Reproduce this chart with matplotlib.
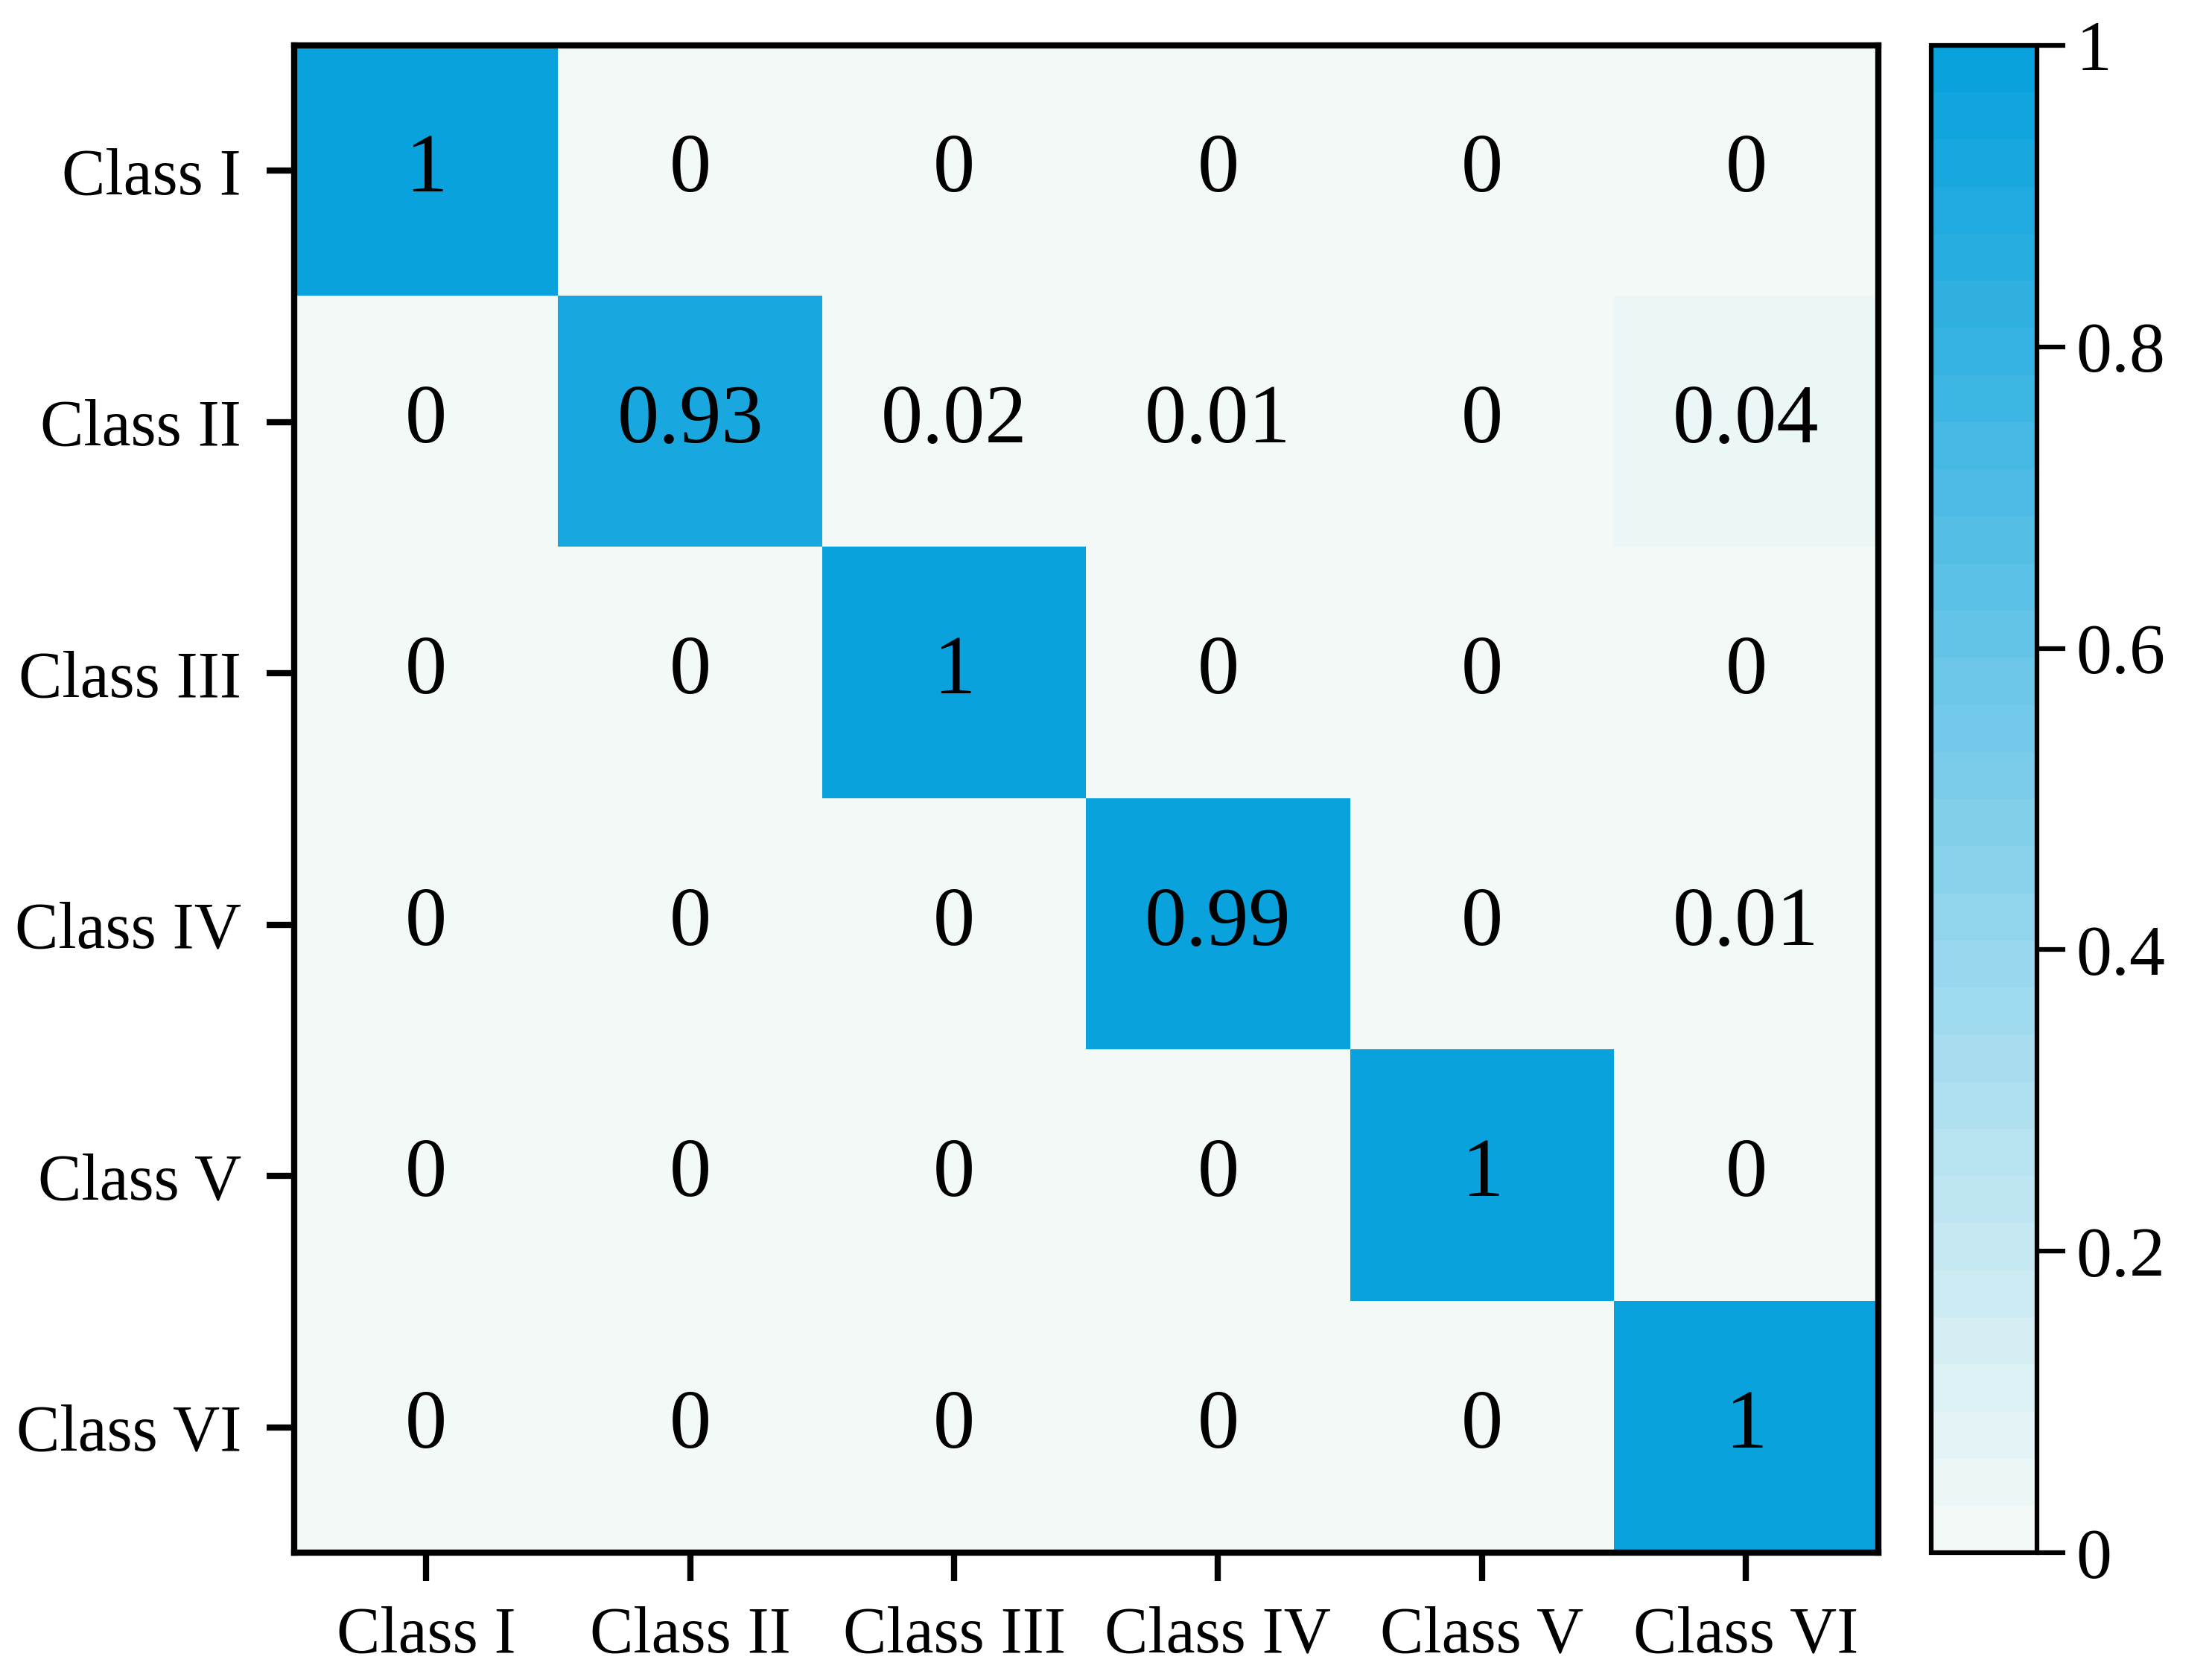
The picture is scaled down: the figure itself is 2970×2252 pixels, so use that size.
import matplotlib
matplotlib.use("Agg")
import matplotlib.pyplot as plt
import numpy as np
from matplotlib.colors import LinearSegmentedColormap

classes = ["Class I", "Class II", "Class III", "Class IV", "Class V", "Class VI"]
matrix = np.array([
    [1, 0, 0, 0, 0, 0],
    [0, 0.93, 0.02, 0.01, 0, 0.04],
    [0, 0, 1, 0, 0, 0],
    [0, 0, 0, 0.99, 0, 0.01],
    [0, 0, 0, 0, 1, 0],
    [0, 0, 0, 0, 0, 1],
])

plt.rcParams["font.family"] = ["Liberation Serif", "DejaVu Serif"]
cmap = LinearSegmentedColormap.from_list("blu", ["#f3f9f7", "#09a2dd"], N=32)

fig = plt.figure(figsize=(9.9, 7.507), dpi=300)
ax = fig.add_axes([0.133, 0.074, 0.716, 0.899])
cax = fig.add_axes([0.873, 0.074, 0.048, 0.899])

im = ax.imshow(matrix, cmap=cmap, vmin=0, vmax=1, aspect="auto")
for i in range(len(classes)):
    for j in range(len(classes)):
        v = matrix[i, j]
        txt = "0" if v == 0 else ("1" if v == 1 else f"{v:.2f}")
        ax.text(j, i, txt, ha="center", va="center", fontsize=27, color="black")

ax.set_xticks(range(len(classes)))
ax.set_yticks(range(len(classes)))
ax.set_xticklabels(classes, fontsize=21)
ax.set_yticklabels(classes, fontsize=21)
ax.tick_params(length=9, width=2, pad=8)
for s in ax.spines.values():
    s.set_linewidth(2)

cb = fig.colorbar(im, cax=cax)
cb.set_ticks([0, 0.2, 0.4, 0.6, 0.8, 1])
cb.set_ticklabels(["0", "0.2", "0.4", "0.6", "0.8", "1"])
cb.ax.tick_params(labelsize=23, length=9, width=1.5)
cb.outline.set_linewidth(1.5)

fig.savefig("out.png", dpi=300)
